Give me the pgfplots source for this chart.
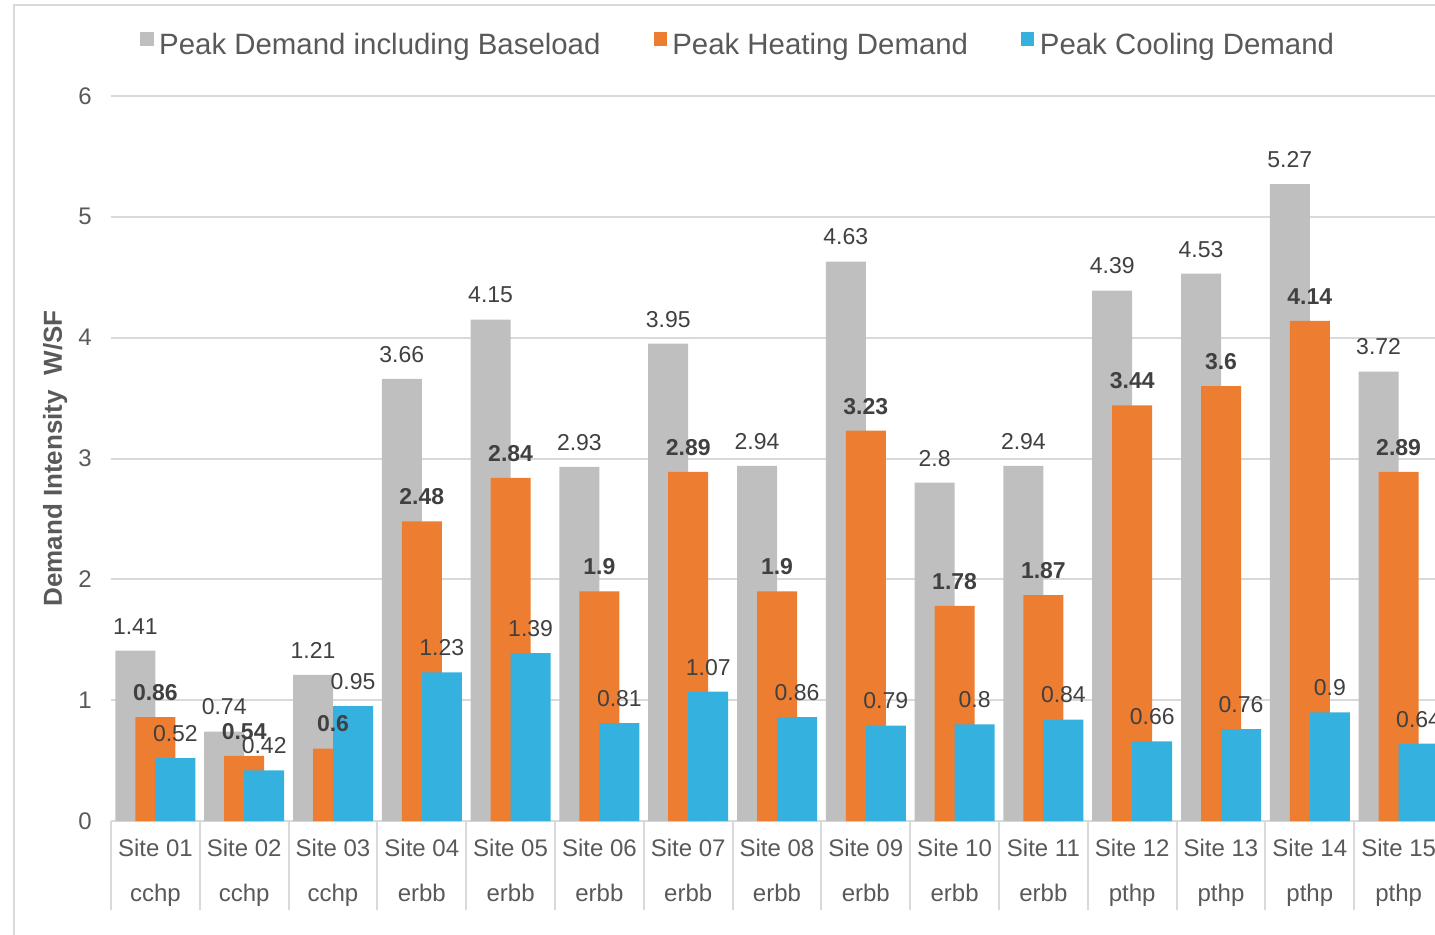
\documentclass[border=0pt]{standalone}
\usepackage{fontspec}
\setmainfont{Liberation Sans}
\usepackage{pgfplots}
\usepackage{pgfplotstable}
\pgfplotsset{compat=1.18}
\definecolor{cgray}{HTML}{BFBFBF}
\definecolor{corange}{HTML}{ED7D31}
\definecolor{cblue}{HTML}{35B1E0}
\definecolor{txt}{HTML}{595959}
\definecolor{lbl}{HTML}{404040}
\definecolor{gridc}{HTML}{D9D9D9}

% site index, baseload peak, heating peak, cooling peak (W/SF)
\pgfplotstableread{
x base heat cool
0  1.41 0.86 0.52
1  0.74 0.54 0.42
2  1.21 0.60 0.95
3  3.66 2.48 1.23
4  4.15 2.84 1.39
5  2.93 1.90 0.81
6  3.95 2.89 1.07
7  2.94 1.90 0.86
8  4.63 3.23 0.79
9  2.80 1.78 0.80
10 2.94 1.87 0.84
11 4.39 3.44 0.66
12 4.53 3.60 0.76
13 5.27 4.14 0.90
14 3.72 2.89 0.64
}\demand

\begin{document}
\begin{tikzpicture}
 \useasboundingbox (-55.5pt,-56.5pt) rectangle (662pt,410.5pt);
 \clip (-55.5pt,-56.5pt) rectangle (662pt,410.5pt);
 \draw[gridc,line width=1.2pt] (-48.5pt,-70pt) -- (-48.5pt,408pt) -- (700pt,408pt);
 \begin{axis}[
  width=666pt,height=362.5pt,scale only axis,
  xmin=-0.5,xmax=14.5,ymin=0,ymax=6,
  ybar,bar width=20pt,clip=false,
  axis line style={draw=none},
  major tick length=0pt,
  ytick={0,...,6},ymajorgrids,
  grid style={gridc,line width=1pt},
  xtick={0,...,14},
  xticklabels={Site 01\\[8.5pt]cchp,Site 02\\[8.5pt]cchp,Site 03\\[8.5pt]cchp,
   Site 04\\[8.5pt]erbb,Site 05\\[8.5pt]erbb,Site 06\\[8.5pt]erbb,Site 07\\[8.5pt]erbb,
   Site 08\\[8.5pt]erbb,Site 09\\[8.5pt]erbb,Site 10\\[8.5pt]erbb,Site 11\\[8.5pt]erbb,
   Site 12\\[8.5pt]pthp,Site 13\\[8.5pt]pthp,Site 14\\[8.5pt]pthp,Site 15\\[8.5pt]pthp},
  /pgf/number format/assume math mode=true,
  tick label style={font=\fontsize{12}{14}\selectfont,text=txt},
  yticklabel style={inner sep=0pt,xshift=-9.5pt},
  xticklabel style={inner sep=0pt,yshift=-9pt,align=center},
  ylabel={Demand Intensity\ \ W/SF},
  ylabel style={font=\fontsize{13}{15}\selectfont\bfseries,text=txt,
   at={(axis description cs:-0.042,0.5)},anchor=center,rotate=0},
  legend columns=3,
  legend style={draw=none,fill=none,inner sep=0pt,
   at={(axis description cs:0.0218,1.0703)},anchor=west,
   font=\fontsize{14.7}{16}\selectfont,text=txt,
   nodes={inner sep=0pt},
   /tikz/every odd column/.append style={column sep=2.8pt},
   /tikz/every even column/.append style={column sep=26.5pt}},
  legend cell align=left,
  legend image code/.code={\fill[#1] (0pt,0pt) rectangle (6.6pt,6.6pt);},
  nodes near coords,
  nodes near coords style={font=\fontsize{11.5}{13}\selectfont,text=lbl,inner sep=0pt,yshift=8pt},
 ]
  \addplot[fill=cgray,draw=none,bar shift=-10pt] table[x=x,y=base] {\demand};
  \addplot[fill=corange,draw=none,bar shift=0pt,
   nodes near coords style={font=\fontsize{11.5}{13}\selectfont\bfseries}] table[x=x,y=heat] {\demand};
  \addplot[fill=cblue,draw=none,bar shift=10pt] table[x=x,y=cool] {\demand};
  \legend{Peak Demand including Baseload,Peak Heating Demand,Peak Cooling Demand}
  \pgfplotsinvokeforeach{-0.5,0.5,...,14.5}{
   \draw[gridc,line width=1pt] (axis cs:#1,0) -- ++(0pt,-44.5pt);}
 \end{axis}
\end{tikzpicture}
\end{document}
